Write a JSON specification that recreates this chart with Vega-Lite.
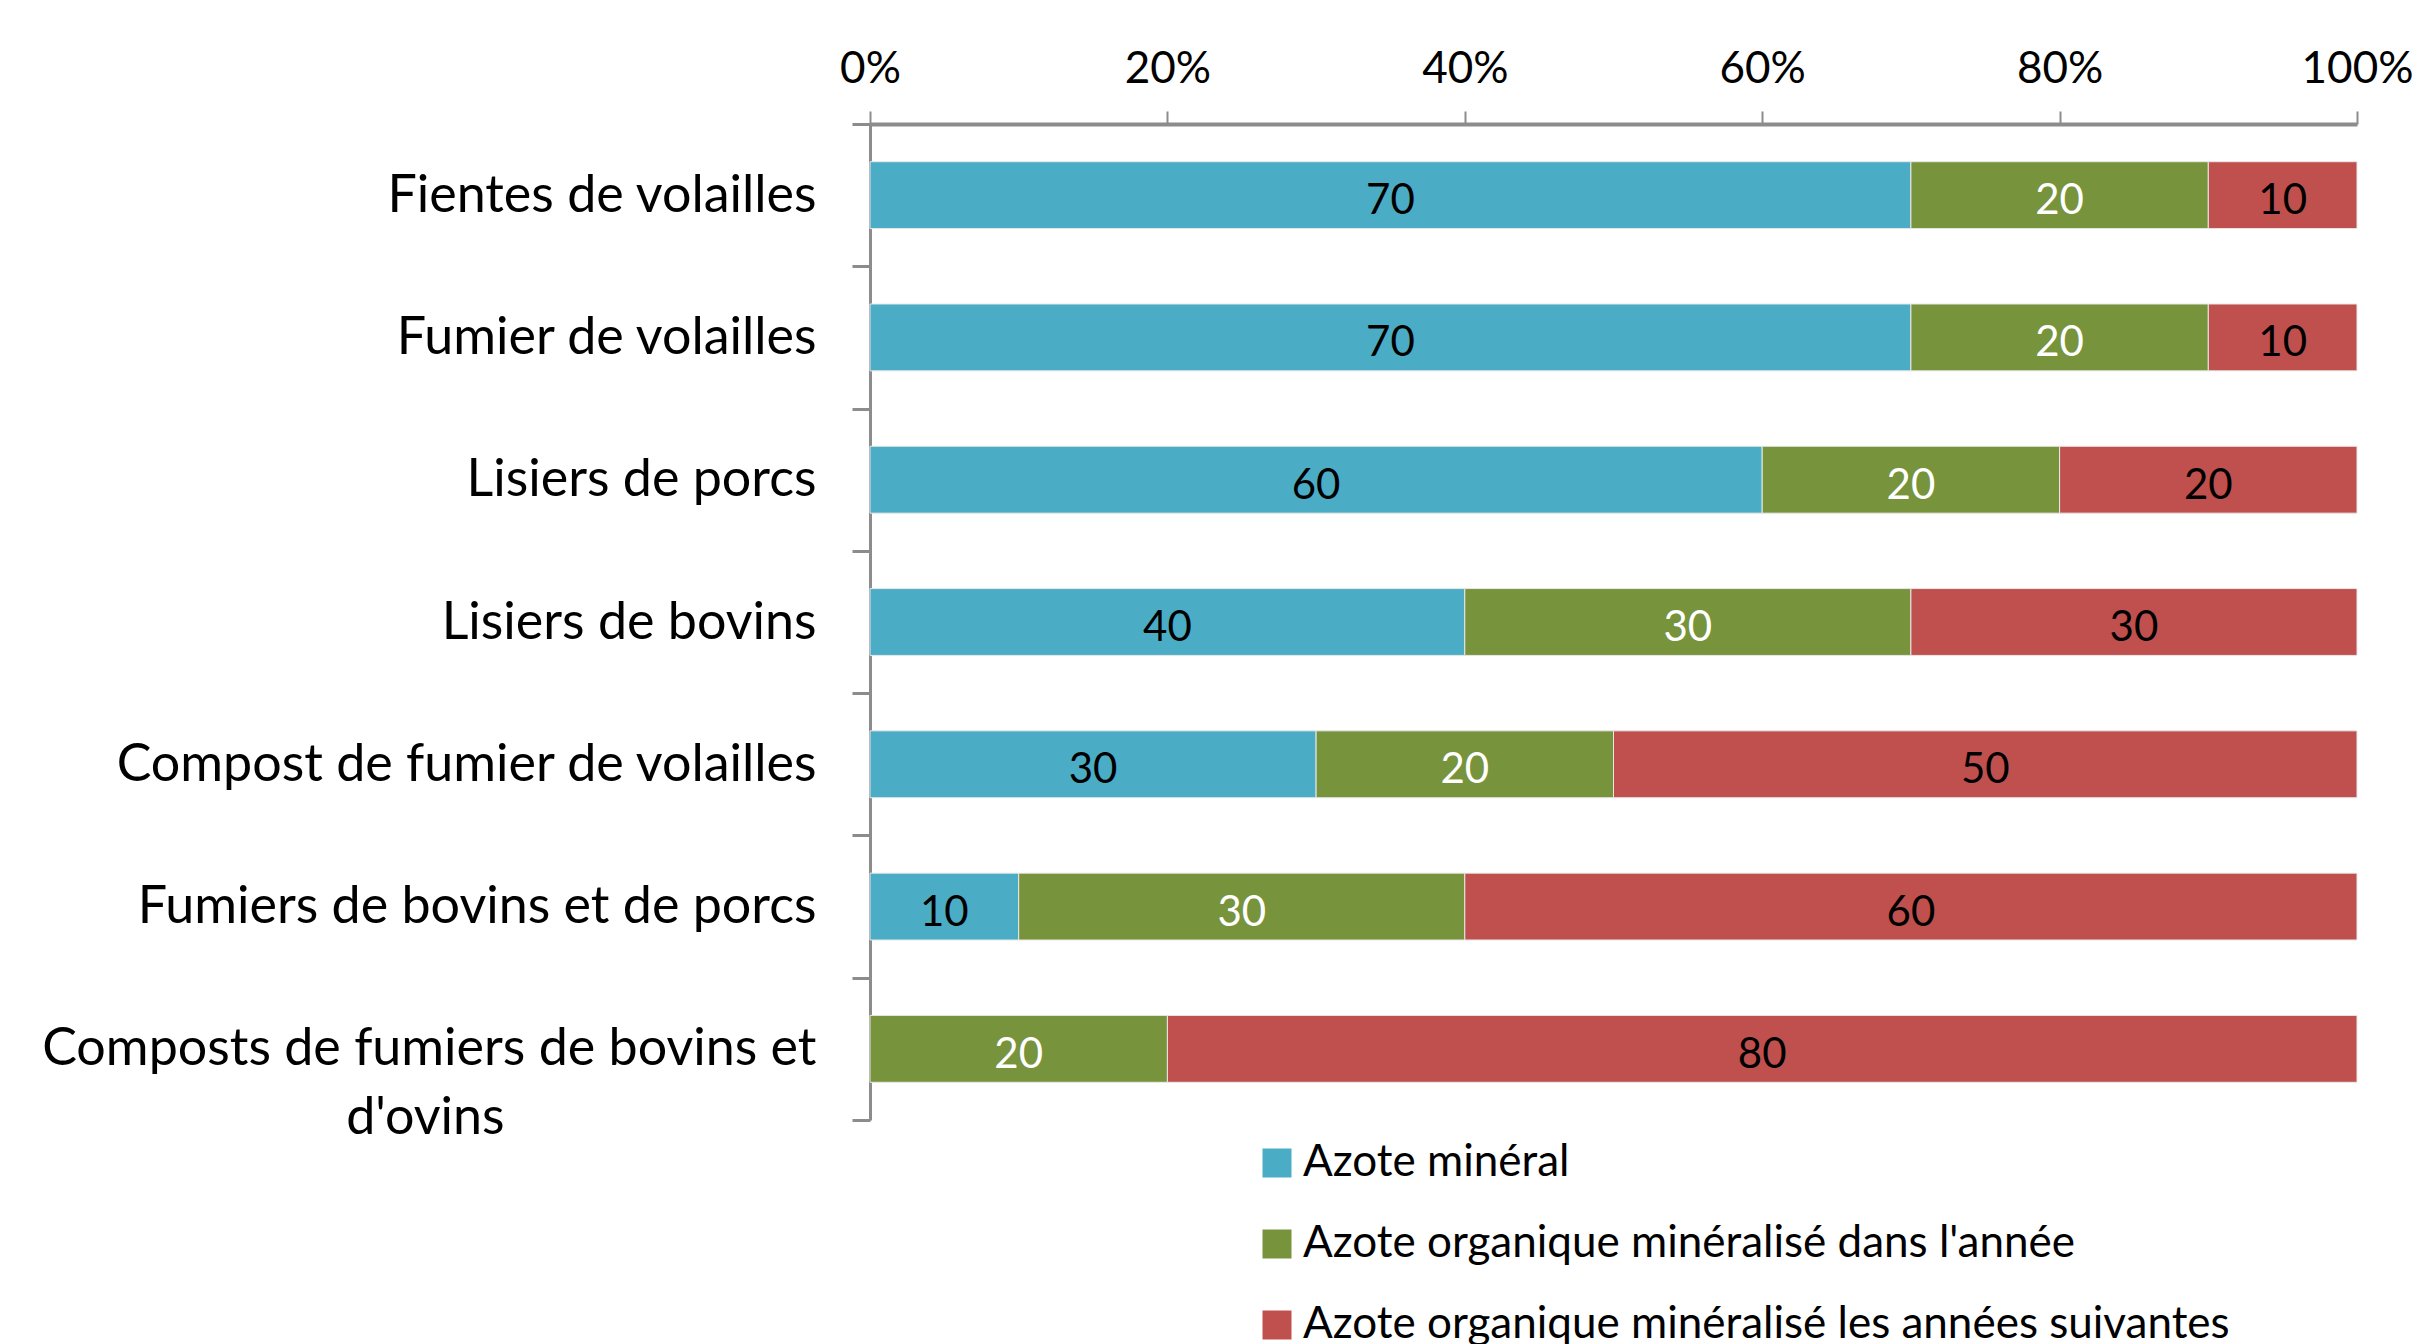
{
  "$schema": "https://vega.github.io/schema/vega-lite/v6.json",
  "autosize": {"type": "none"},
  "width": 1487,
  "height": 996,
  "padding": {"left": 870, "top": 124, "right": 58, "bottom": 224},
  "background": "white",
  "config": {"font": "Lato", "view": {"stroke": null}},
  "data": {
    "values": [
      {"cat": "Fientes de volailles", "series": "Azote minéral", "ord": 1, "value": 70},
      {"cat": "Fientes de volailles", "series": "Azote organique minéralisé dans l'année", "ord": 2, "value": 20},
      {"cat": "Fientes de volailles", "series": "Azote organique minéralisé les années suivantes", "ord": 3, "value": 10},
      {"cat": "Fumier de volailles", "series": "Azote minéral", "ord": 1, "value": 70},
      {"cat": "Fumier de volailles", "series": "Azote organique minéralisé dans l'année", "ord": 2, "value": 20},
      {"cat": "Fumier de volailles", "series": "Azote organique minéralisé les années suivantes", "ord": 3, "value": 10},
      {"cat": "Lisiers de porcs", "series": "Azote minéral", "ord": 1, "value": 60},
      {"cat": "Lisiers de porcs", "series": "Azote organique minéralisé dans l'année", "ord": 2, "value": 20},
      {"cat": "Lisiers de porcs", "series": "Azote organique minéralisé les années suivantes", "ord": 3, "value": 20},
      {"cat": "Lisiers de bovins", "series": "Azote minéral", "ord": 1, "value": 40},
      {"cat": "Lisiers de bovins", "series": "Azote organique minéralisé dans l'année", "ord": 2, "value": 30},
      {"cat": "Lisiers de bovins", "series": "Azote organique minéralisé les années suivantes", "ord": 3, "value": 30},
      {"cat": "Compost de fumier de volailles", "series": "Azote minéral", "ord": 1, "value": 30},
      {"cat": "Compost de fumier de volailles", "series": "Azote organique minéralisé dans l'année", "ord": 2, "value": 20},
      {"cat": "Compost de fumier de volailles", "series": "Azote organique minéralisé les années suivantes", "ord": 3, "value": 50},
      {"cat": "Fumiers de bovins et de porcs", "series": "Azote minéral", "ord": 1, "value": 10},
      {"cat": "Fumiers de bovins et de porcs", "series": "Azote organique minéralisé dans l'année", "ord": 2, "value": 30},
      {"cat": "Fumiers de bovins et de porcs", "series": "Azote organique minéralisé les années suivantes", "ord": 3, "value": 60},
      {"cat": "Composts de fumiers de bovins et d'ovins", "series": "Azote organique minéralisé dans l'année", "ord": 2, "value": 20},
      {"cat": "Composts de fumiers de bovins et d'ovins", "series": "Azote organique minéralisé les années suivantes", "ord": 3, "value": 80}
    ]
  },
  "transform": [
    {"stack": "value", "groupby": ["cat"], "sort": [{"field": "ord", "order": "ascending"}], "as": ["x0", "x1"]}
  ],
  "resolve": {"scale": {"y": "independent"}},
  "layer": [
    {
      "mark": {"type": "bar", "stroke": "#e8e8e8", "strokeWidth": 1},
      "encoding": {
        "y": {
          "field": "cat", "type": "nominal", "sort": null,
          "scale": {"paddingInner": 0.53, "paddingOuter": 0.265},
          "axis": null
        },
        "x": {
          "field": "x0", "type": "quantitative",
          "scale": {"domain": [0, 100], "nice": false},
          "axis": {
            "orient": "top",
            "title": null,
            "values": [0, 20, 40, 60, 80, 100],
            "labelExpr": "datum.value + '%'",
            "labelFontSize": 44,
            "labelColor": "black",
            "labelFlush": false,
            "labelPadding": 20,
            "tickSize": 13,
            "tickColor": "#8c8c8c",
            "tickWidth": 2,
            "domainColor": "#8c8c8c",
            "domainWidth": 4,
            "grid": false
          }
        },
        "x2": {"field": "x1"},
        "color": {
          "field": "series", "type": "nominal",
          "scale": {
            "domain": ["Azote minéral", "Azote organique minéralisé dans l'année", "Azote organique minéralisé les années suivantes"],
            "range": ["#4BACC6", "#77933C", "#C0504D"]
          },
          "legend": {
            "title": null,
            "orient": "none",
            "legendX": 385,
            "legendY": 1017,
            "direction": "vertical",
            "symbolType": "square",
            "symbolSize": 841,
            "symbolStrokeWidth": 0,
            "symbolOpacity": 1,
            "labelFontSize": 44,
            "labelColor": "black",
            "labelOffset": 4,
            "labelLimit": 1200,
            "rowPadding": 37,
            "padding": 0
          }
        }
      }
    },
    {
      "transform": [
        {"fold": ["x0", "x1"], "as": ["k", "pos"]},
        {"aggregate": [{"op": "mean", "field": "pos", "as": "mid"}], "groupby": ["cat", "series", "ord", "value"]}
      ],
      "mark": {"type": "text", "fontSize": 42, "baseline": "middle", "dy": 6},
      "encoding": {
        "y": {
          "field": "cat", "type": "nominal", "sort": null,
          "scale": {"paddingInner": 0, "paddingOuter": 0},
          "axis": {
            "title": null,
            "labelFontSize": 52,
            "labelColor": "black",
            "labelPadding": 36,
            "labelLimit": 900,
            "labelLineHeight": 69,
            "labelExpr": "indexof(datum.label, 'Composts') === 0 ? ['Composts de fumiers de bovins et', \"d'ovins\u2002\u2002\u2002\u2002\u2002\u2002\u2002\u2002\u2002\u2002\u2002\u2002\u200b\"] : datum.label",
            "tickBand": "extent",
            "tickSize": 18,
            "tickColor": "#8c8c8c",
            "tickWidth": 3,
            "domainColor": "#8c8c8c",
            "domainWidth": 3
          }
        },
        "x": {"field": "mid", "type": "quantitative"},
        "text": {"field": "value", "type": "quantitative"},
        "color": {"condition": {"test": "datum.ord === 2", "value": "white"}, "value": "black"}
      }
    }
  ]
}
